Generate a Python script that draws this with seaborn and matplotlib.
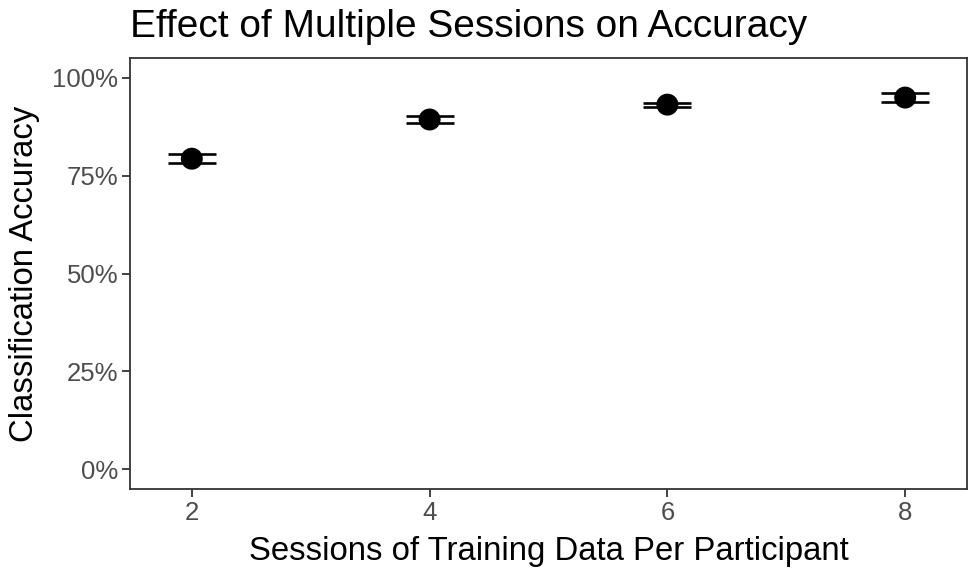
import numpy as np
import pandas as pd
import matplotlib
matplotlib.use("Agg")
import matplotlib.pyplot as plt
import seaborn as sns
from matplotlib.ticker import PercentFormatter

# values
sessions = [2, 4, 6, 8]
accuracy = [0.793, 0.893, 0.931, 0.949]
acc_low = [0.783, 0.883, 0.926, 0.937]
acc_high = [0.804, 0.903, 0.935, 0.961]

df = pd.DataFrame({"Sessions": sessions, "Accuracy": accuracy,
                   "Low": acc_low, "High": acc_high})

sns.set_theme(style="white")
plt.rcParams["font.family"] = ["Liberation Sans", "DejaVu Sans"]

fig = plt.figure(figsize=(9.69, 5.70), dpi=100)
ax = fig.add_axes([130 / 969, 1 - 489 / 570, (967 - 130) / 969, (489 - 58) / 570])

# error bars (ggplot style, width 0.4)
yerr = np.array([df.Accuracy - df.Low, df.High - df.Accuracy])
ax.errorbar(df.Sessions, df.Accuracy, yerr=yerr, fmt="none", ecolor="black",
            elinewidth=1.9, capsize=17, capthick=1.9, zorder=2)
sns.scatterplot(data=df, x="Sessions", y="Accuracy", color="black", s=250,
                edgecolor="none", ax=ax, zorder=3)

ax.set_xlim(1.48, 8.52)
ax.set_ylim(-0.05, 1.05)
ax.set_xticks([2, 4, 6, 8])
ax.set_yticks([0, 0.25, 0.5, 0.75, 1.0])
ax.yaxis.set_major_formatter(PercentFormatter(xmax=1, decimals=0))

for sp in ax.spines.values():
    sp.set_visible(True)
    sp.set_color("#333333")
    sp.set_linewidth(1.3)

ax.tick_params(axis="both", which="major", length=5.5, width=1.3, color="#333333",
               labelsize=18.5, labelcolor="#4D4D4D", direction="out",
               bottom=True, left=True, pad=3)

ax.set_xlabel("Sessions of Training Data Per Participant", fontsize=23.7, color="black", labelpad=8)
ax.set_ylabel("Classification Accuracy", fontsize=23.7, color="black", labelpad=9)
fig.text(130 / 969, 1 - 37 / 570, "Effect of Multiple Sessions on Accuracy",
         fontsize=28, color="black", ha="left", va="baseline")

fig.savefig("out.png", dpi=100)
